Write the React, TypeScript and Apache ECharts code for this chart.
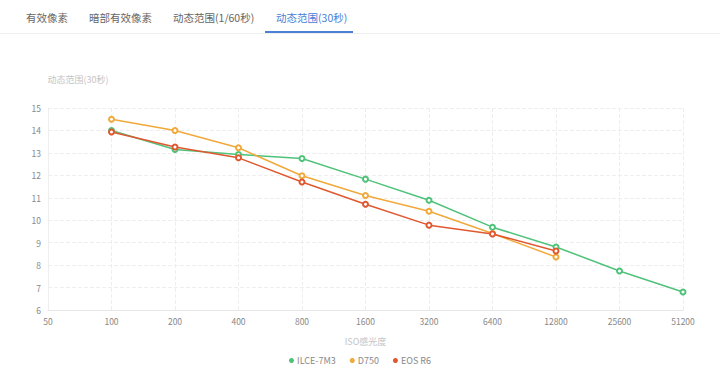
import React, { useEffect, useRef } from "react";
import * as echarts from "echarts";

const categories = ["50", "100", "200", "400", "800", "1600", "3200", "6400", "12800", "25600", "51200"];
const ilce7m3 = [null, 14.0, 13.15, 12.93, 12.75, 11.83, 10.89, 9.69, 8.81, 7.74, 6.8];
const d750 = [null, 14.5, 14.0, 13.23, 11.98, 11.1, 10.4, 9.41, 8.36, null, null];
const eosR6 = [null, 13.93, 13.26, 12.78, 11.7, 10.71, 9.78, 9.39, 8.63, null, null];
const tabs = ["有效像素", "暗部有效像素", "动态范围(1/60秒)", "动态范围(30秒)"];
const tabX = [26, 89, 173, 276];

const FONT = "'Noto Sans CJK SC', 'Noto Sans', sans-serif";

export default function App() {
  const ref = useRef<HTMLDivElement>(null);
  useEffect(() => {
    document.body.style.margin = "0";
    const chart = echarts.init(ref.current!, null, { renderer: "svg" });
    const mk = (name: string, data: any[], color: string) => ({
      name,
      type: "line",
      data,
      symbol: "emptyCircle",
      symbolSize: 5,
      connectNulls: false,
      itemStyle: { color, borderWidth: 1 },
      lineStyle: { color, width: 1.5 },
    });
    chart.setOption({
      animation: false,
      textStyle: { fontFamily: FONT },
      grid: { left: 48, right: 37, top: 108, bottom: 66 },
      legend: {
        bottom: 6,
        left: "center",
        icon: "circle",
        itemWidth: 5,
        itemHeight: 5,
        itemGap: 14,
        textStyle: { color: "#888", fontSize: 9, fontFamily: FONT, padding: [0, 0, 0, -2] },
        data: ["ILCE-7M3", "D750", "EOS R6"],
      },
      xAxis: {
        type: "category",
        data: categories,
        boundaryGap: false,
        name: "ISO感光度",
        nameLocation: "middle",
        nameGap: 27,
        nameTextStyle: { color: "#c4c4c4", fontSize: 9 },
        axisLine: { lineStyle: { color: "#e6e6e6" } },
        axisTick: { show: false },
        axisLabel: { color: "#888", fontSize: 8.5, margin: 7 },
        splitLine: { show: true, lineStyle: { color: "#eee", type: "dashed" } },
      },
      yAxis: {
        type: "value",
        min: 6,
        max: 15,
        interval: 1,
        name: "动态范围(30秒)",
        nameLocation: "end",
        nameGap: 24,
        nameTextStyle: { color: "#c4c4c4", fontSize: 9, align: "center", padding: [0, 0, 0, 60] },
        axisLine: { show: true, lineStyle: { color: "#eee" } },
        axisTick: { show: false },
        axisLabel: { color: "#888", fontSize: 8.5, margin: 7 },
        splitLine: { show: true, lineStyle: { color: "#eee", type: "dashed" } },
      },
      series: [
        mk("ILCE-7M3", ilce7m3, "#4fc27a"),
        mk("D750", d750, "#f0a93a"),
        mk("EOS R6", eosR6, "#e0582f"),
      ],
    });
    return () => chart.dispose();
  }, []);
  return (
    <div style={{ position: "absolute", left: 0, top: 0, width: 720, height: 376, background: "#fff", fontFamily: FONT }}>
      {tabs.map((t, i) => (
        <div
          key={t}
          style={{
            position: "absolute",
            left: tabX[i],
            top: 10,
            fontSize: 10.5,
            color: i === 3 ? "#4a80d6" : "#666",
            whiteSpace: "nowrap",
          }}
        >
          {t}
        </div>
      ))}
      <div style={{ position: "absolute", left: 0, top: 33, width: 720, height: 1, background: "#eee" }} />
      <div style={{ position: "absolute", left: 265, top: 31, width: 88, height: 2, background: "#4a80d6" }} />
      <div ref={ref} style={{ position: "absolute", left: 0, top: 0, width: 720, height: 376 }} />
    </div>
  );
}
